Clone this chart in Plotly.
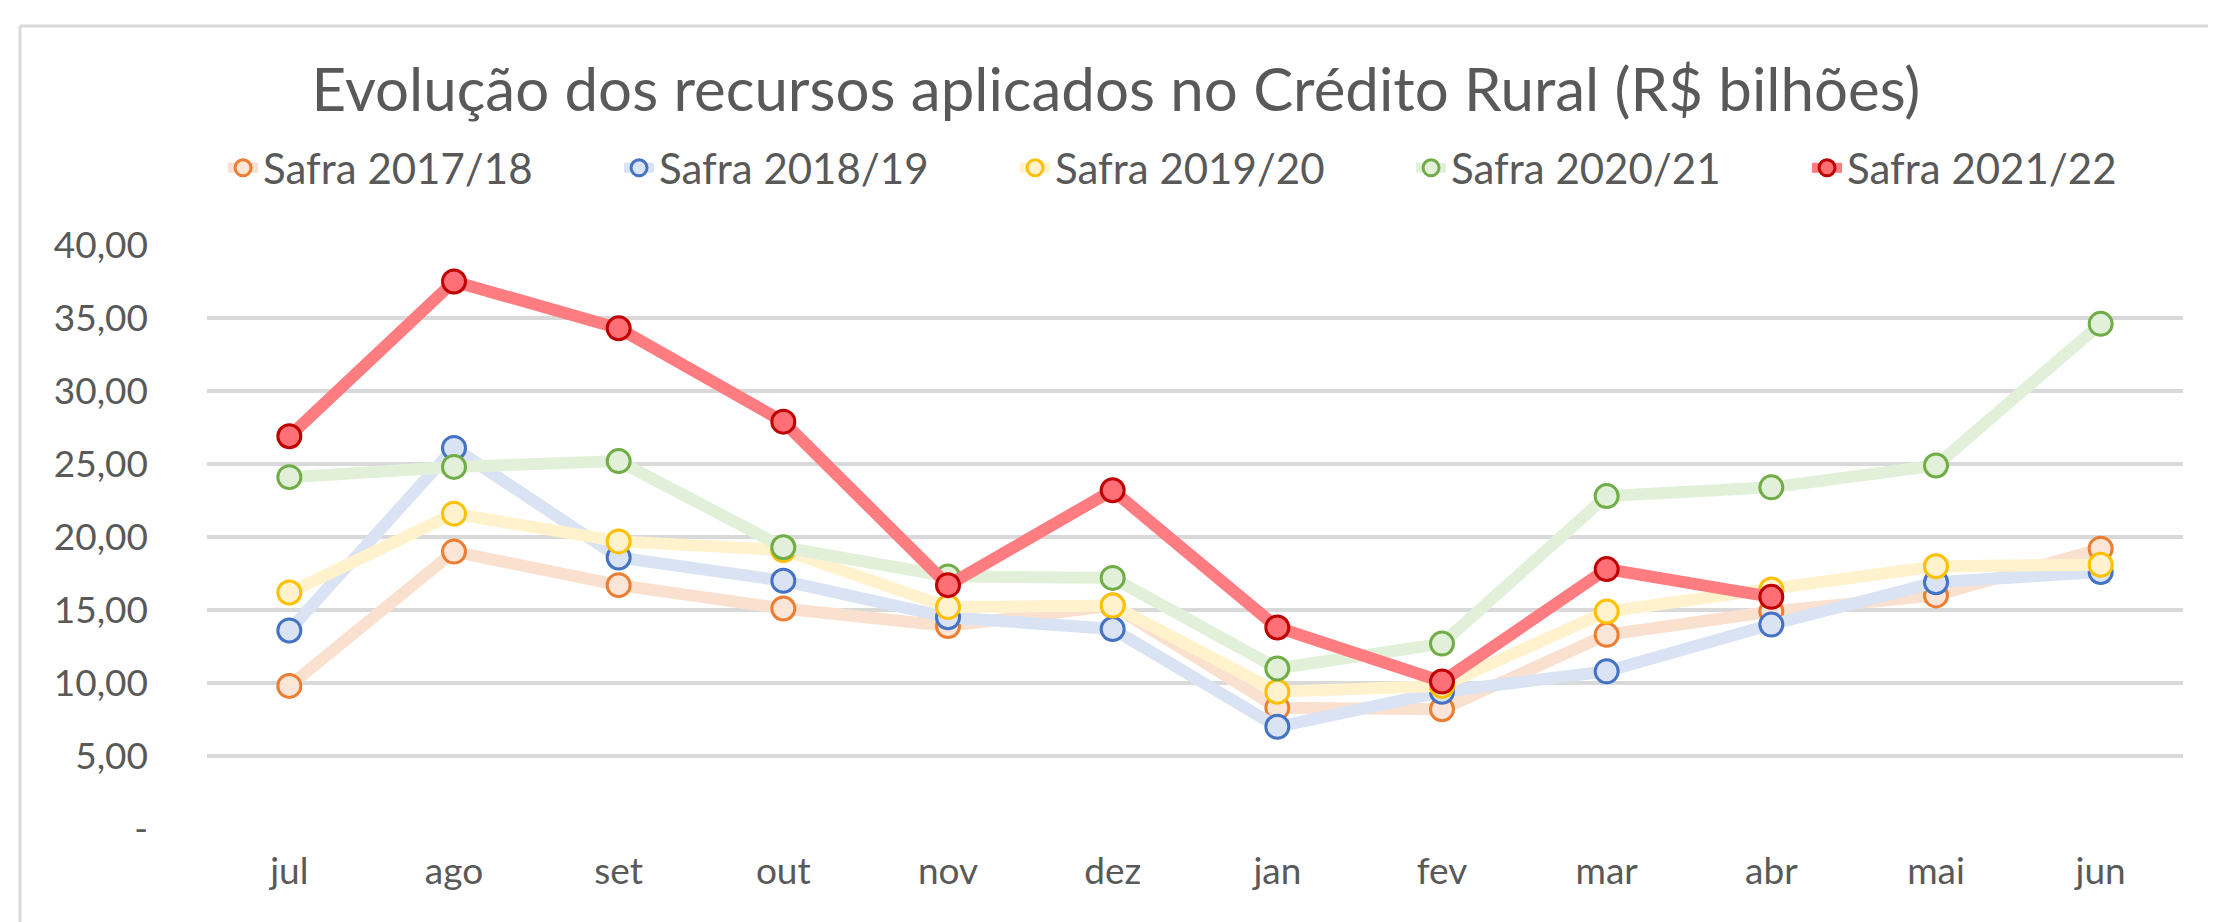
import plotly.graph_objects as go

months = ["jul", "ago", "set", "out", "nov", "dez", "jan", "fev", "mar", "abr", "mai", "jun"]

safra_2017_18 = [9.8, 19.0, 16.7, 15.1, 13.9, 15.3, 8.3, 8.2, 13.3, 14.9, 16.0, 19.2]
safra_2018_19 = [13.6, 26.1, 18.6, 17.0, 14.5, 13.7, 7.0, 9.4, 10.8, 14.0, 16.9, 17.6]
safra_2019_20 = [16.2, 21.6, 19.7, 19.1, 15.2, 15.3, 9.4, 9.8, 14.9, 16.4, 18.0, 18.1]
safra_2020_21 = [24.1, 24.8, 25.2, 19.3, 17.3, 17.2, 11.0, 12.7, 22.8, 23.4, 24.9, 34.6]
safra_2021_22 = [26.9, 37.5, 34.3, 27.9, 16.7, 23.2, 13.8, 10.1, 17.8, 15.9, None, None]

series_names = ["Safra 2017/18", "Safra 2018/19", "Safra 2019/20", "Safra 2020/21", "Safra 2021/22"]

y_tick_vals = [0, 5, 10, 15, 20, 25, 30, 35, 40]
y_tick_text = ["-", "5,00", "10,00", "15,00", "20,00", "25,00", "30,00", "35,00", "40,00"]

title_text = "Evolução dos recursos aplicados no Crédito Rural (R$ bilhões)"

styles = [
    dict(line="#FAE0CF", edge="#ED7D31", fill="#FBE5D6"),
    dict(line="#DAE3F3", edge="#4472C4", fill="#DAE3F3"),
    dict(line="#FFF2CC", edge="#FFC000", fill="#FFF2CC"),
    dict(line="#E2F0D9", edge="#70AD47", fill="#E2F0D9"),
    dict(line="#FF7C80", edge="#C00000", fill="#FF6F75"),
]

data = [safra_2017_18, safra_2018_19, safra_2019_20, safra_2020_21, safra_2021_22]

FONT = "Lato, 'Open Sans', sans-serif"
GRAY = "#595959"

fig = go.Figure()
for name, vals, st in zip(series_names, data, styles):
    fig.add_trace(go.Scatter(
        x=months, y=vals, name=name, mode="lines+markers",
        line=dict(color=st["line"], width=12),
        marker=dict(size=23, color=st["fill"], line=dict(color=st["edge"], width=3)),
        connectgaps=False,
    ))

W, H = 2216, 922
L, R, T, B = 199, 41, 237, 101
pw, ph = W - L - R, H - T - B

def px_x(p):
    return (p - L) / pw

def px_y(p):
    return (H - B - p) / ph

frame = "#D9D9D9"
shapes = [
    dict(type="line", xref="paper", yref="paper", x0=px_x(12), x1=px_x(W), y0=px_y(18), y1=px_y(18),
         line=dict(color=frame, width=3)),
    dict(type="line", xref="paper", yref="paper", x0=px_x(12), x1=px_x(12), y0=px_y(18), y1=px_y(H),
         line=dict(color=frame, width=3)),
]

fig.update_layout(
    width=W, height=H,
    margin=dict(l=L, r=R, t=T, b=B, autoexpand=False),
    paper_bgcolor="white", plot_bgcolor="white",
    font=dict(family=FONT, color=GRAY),
    title=dict(text=title_text, x=0.5, xanchor="center", xref="container",
               y=1 - 82 / H, yanchor="middle", yref="container",
               font=dict(size=60, color=GRAY, family=FONT)),
    legend=dict(orientation="h", xref="paper", x=-0.002, xanchor="left",
                yref="paper", y=px_y(160), yanchor="middle",
                indentation=20,
                font=dict(size=42, color=GRAY, family=FONT),
                entrywidth=331, entrywidthmode="pixels",
                bgcolor="rgba(0,0,0,0)"),
    shapes=shapes,
    showlegend=True,
)

fig.update_xaxes(type="category", range=[-0.5, 11.5], showgrid=False, zeroline=False, showline=False,
                 ticks="", tickfont=dict(size=37, color=GRAY, family=FONT), ticklabelstandoff=17,
                 fixedrange=True)
fig.update_yaxes(range=[0, 40], tickvals=y_tick_vals, ticktext=y_tick_text,
                 showgrid=True, gridcolor="#D9D9D9", gridwidth=3.5, zeroline=False, showline=False,
                 ticks="", tickfont=dict(size=37, color=GRAY, family=FONT), ticklabelstandoff=58,
                 fixedrange=True)

fig.write_html("out.html")
